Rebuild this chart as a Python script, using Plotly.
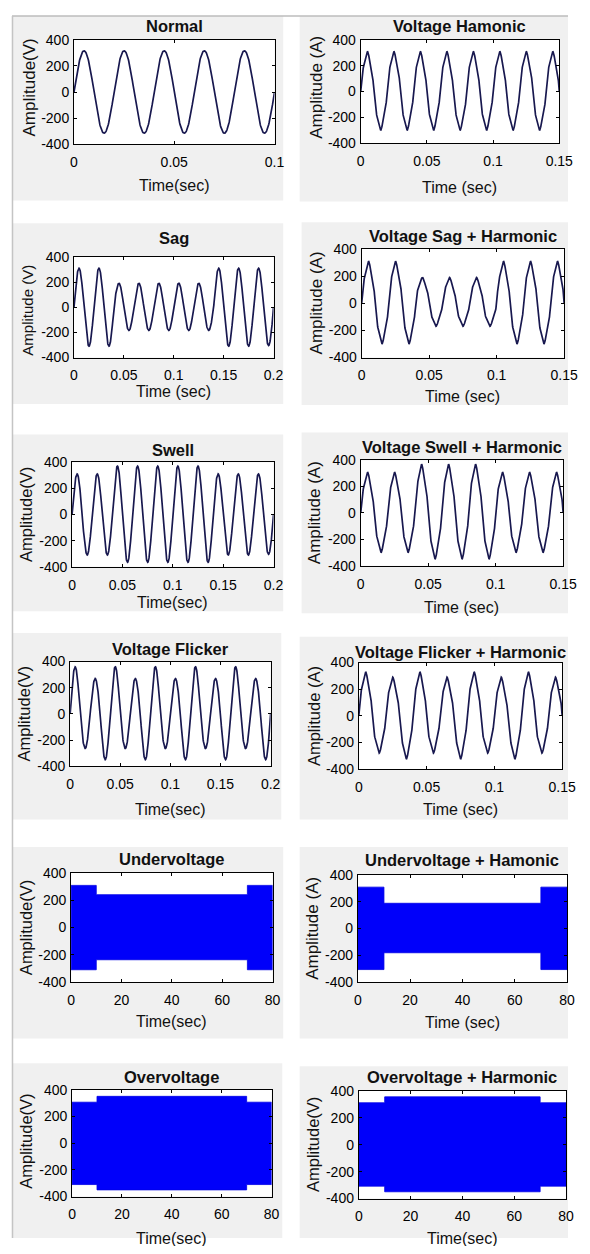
import numpy as np
import plotly.graph_objects as go

# page is shown with the browser's default 8px body margin, so the figure is
# sized to fill the 590x1254 window exactly together with that margin
PAGE_W, PAGE_H, OFF = 590, 1254, 8
W, H = PAGE_W - 2 * OFF, PAGE_H - 2 * OFF
FUND_HZ = 50

# ---------------- data ----------------
TITLES = ["Normal", "Voltage Hamonic", "Sag", "Voltage Sag + Harmonic",
          "Swell", "Voltage Swell + Harmonic", "Voltage Flicker",
          "Voltage Flicker + Harmonic", "Undervoltage", "Undervoltage + Hamonic",
          "Overvoltage", "Overvoltage + Harmonic"]
YLABELS = ["Amplitude(V)", "Amplitude (A)", "Amplitude (V)", "Amplitude (A)",
           "Amplitude(V)", "Amplitude (A)", "Amplitude(V)", "Amplitude (A)",
           "Amplitude(V)", "Amplitude (A)", "Amplitude(V)", "Amplitude(V)"]
XLABELS = ["Time(sec)", "Time (sec)", "Time (sec)", "Time (sec)",
           "Time(sec)", "Time (sec)", "Time(sec)", "Time (sec)",
           "Time(sec)", "Time (sec)", "Time(sec)", "Time(sec)"]

Y_TICKS = [-400, -200, 0, 200, 400]
X_TICKS_01 = [0, 0.05, 0.1]
X_TICKS_015 = [0, 0.05, 0.1, 0.15]
X_TICKS_02 = [0, 0.05, 0.1, 0.15, 0.2]
X_TICKS_80 = [0, 20, 40, 60, 80]

# peak magnitude of every half cycle (10 ms each)
NORMAL_HC = [315, 315, 315, 315, 315, 315, 315, 315, 315, 315]
HARM_HC = [310, 300, 310, 300, 310, 300, 310, 300, 310, 300, 310, 300, 310, 300, 310]
SAG_HC = [310, 310, 310, 310, 190, 185, 190, 185, 190, 185, 190, 185, 190, 185,
          310, 310, 310, 310, 310, 305]
SAG_H_HC = [310, 300, 310, 300, 190, 170, 190, 170, 190, 170, 310, 300, 310, 300, 310]
SWELL_HC = [310, 310, 310, 310, 370, 365, 370, 365, 370, 365, 370, 365, 370, 365,
            310, 310, 310, 310, 310, 305]
SWELL_H_HC = [310, 300, 310, 300, 370, 350, 370, 350, 370, 350, 310, 300, 310, 300, 310]
FLICK_HC = [360, 265, 270, 350, 360, 265, 270, 350, 360, 265, 270, 350, 360, 265,
            270, 350, 360, 265, 270, 350]
FLICK_H_HC = [330, 280, 290, 325, 330, 280, 290, 325, 330, 280, 290, 325, 330, 280, 290]

# harmonic content of the distorted waveforms (order, relative magnitude)
HARM_ORDERS = [1, 3, 5]
HARM_MAGS = [1.0, 0.03, 0.06]

# dense 80 s records: segment bounds, upper / lower envelope
UV_BOUNDS = [0, 10, 70, 80]
UV_UPPER = [308, 240, 308]
UV_LOWER = [-308, -235, -308]
UVH_BOUNDS = [0, 10, 70, 80]
UVH_UPPER = [308, 188, 308]
UVH_LOWER = [-305, -180, -305]
OV_BOUNDS = [0, 10, 70, 80]
OV_UPPER = [308, 352, 308]
OV_LOWER = [-310, -350, -310]
OVH_BOUNDS = [0, 10, 70, 80]
OVH_UPPER = [312, 356, 312]
OVH_LOWER = [-308, -350, -308]

# ---------------- layout (window pixels) ----------------
BOX = [(72, 279, 32, 138), (368, 573, 32, 137), (72, 278, 252, 354), (369, 578, 244, 354),
       (70, 278, 460, 566), (368, 577, 458, 565), (68, 275, 662, 768), (366, 576, 663, 771),
       (69, 277, 876, 987), (365, 581, 878, 987), (70, 276, 1096, 1204), (366, 580, 1097, 1206)]
TITLE_Y = [18, 18, 233, 231, 448, 445, 649, 652, 862, 863, 1083, 1083]
XT_Y = [180, 182, 388, 393, 602, 607, 812, 812, 1027, 1028, 1247, 1249]
YT_X = [26, 322, 24, 322, 23, 321, 20, 320, 22, 318, 23, 318]
YT_DY = [-5, -4, 3, 0, 0, 0, 0, 0, 0, 0, -2, 0]
YT_SIZE = [17, 17, 15, 17, 16.5, 17, 16.5, 16.5, 16.5, 17, 16.5, 16.5]
GREY = [(8, 288, 8, 195), (305, 584, 8, 196), (8, 288, 218, 401), (307, 585, 217, 402),
        (8, 288, 432, 611), (307, 585, 430, 613), (8, 286, 633, 822), (305, 583, 637, 822),
        (8, 288, 850, 1044), (305, 587, 850, 1044), (8, 287, 1069, 1254), (305, 590, 1072, 1254)]


def wave(half_amps, orders, mags, pts=60):
    th_ref = np.linspace(0, np.pi, 400)
    smax = max(sum(m * np.sin(n * th_ref) for n, m in zip(orders, mags)))
    ts, vs = [], []
    for k, a in enumerate(half_amps):
        th = np.linspace(k * np.pi, (k + 1) * np.pi, pts)
        s = sum(m * np.sin(n * th) for n, m in zip(orders, mags)) / smax
        ts.append(th / (2 * np.pi * FUND_HZ))
        vs.append(a * s)
    return np.concatenate(ts), np.concatenate(vs)


def envelope(bounds, upper, lower):
    xs, ys = [], []
    for i, u in enumerate(upper):
        xs += [bounds[i], bounds[i + 1]]
        ys += [u, u]
    for i in range(len(lower) - 1, -1, -1):
        xs += [bounds[i + 1], bounds[i]]
        ys += [lower[i], lower[i]]
    xs.append(xs[0]); ys.append(ys[0])
    return xs, ys


PURE = ([1], [1.0])
HARM = (HARM_ORDERS, HARM_MAGS)
panels = [
    ("wave", NORMAL_HC, PURE, [0, 0.1], X_TICKS_01),
    ("wave", HARM_HC, HARM, [0, 0.15], X_TICKS_015),
    ("wave", SAG_HC, PURE, [0, 0.2], X_TICKS_02),
    ("wave", SAG_H_HC, HARM, [0, 0.15], X_TICKS_015),
    ("wave", SWELL_HC, PURE, [0, 0.2], X_TICKS_02),
    ("wave", SWELL_H_HC, HARM, [0, 0.15], X_TICKS_015),
    ("wave", FLICK_HC, PURE, [0, 0.2], X_TICKS_02),
    ("wave", FLICK_H_HC, HARM, [0, 0.15], X_TICKS_015),
    ("env", (UV_BOUNDS, UV_UPPER, UV_LOWER), None, [0, 80], X_TICKS_80),
    ("env", (UVH_BOUNDS, UVH_UPPER, UVH_LOWER), None, [0, 80], X_TICKS_80),
    ("env", (OV_BOUNDS, OV_UPPER, OV_LOWER), None, [0, 80], X_TICKS_80),
    ("env", (OVH_BOUNDS, OVH_UPPER, OVH_LOWER), None, [0, 80], X_TICKS_80),
]

FONT = "Liberation Sans, Arial, sans-serif"
fig = go.Figure()
layout = dict(width=W, height=H, margin=dict(l=0, r=0, t=0, b=0),
              paper_bgcolor="white", plot_bgcolor="white", showlegend=False)
shapes, annos = [], []


def px(x):
    return min(max((x - OFF) / W, 0), 1)


def py(y):
    return min(max(1 - (y - OFF) / H, 0), 1)


for i, (kind, data, harm, xr, xt) in enumerate(panels):
    n = i + 1
    xa = "x" if n == 1 else f"x{n}"
    ya = "y" if n == 1 else f"y{n}"
    if kind == "wave":
        t, v = wave(data, *harm)
        fig.add_trace(go.Scatter(x=t, y=v, mode="lines", xaxis=xa, yaxis=ya,
                                 line=dict(color="#18184f", width=1.7), hoverinfo="skip"))
    else:
        ex, ey = envelope(*data)
        fig.add_trace(go.Scatter(x=ex, y=ey, mode="lines", fill="toself", xaxis=xa, yaxis=ya,
                                 fillcolor="#0000fa", line=dict(color="#0000e6", width=0.8),
                                 hoverinfo="skip"))
    l, r, t0, b = BOX[i]
    axcommon = dict(showline=True, linecolor="black", linewidth=1, mirror="ticks",
                    ticks="inside", ticklen=3, tickcolor="black", showgrid=False,
                    zeroline=False, tickfont=dict(family=FONT, size=14, color="#000"))
    xkey = "xaxis" if n == 1 else f"xaxis{n}"
    ykey = "yaxis" if n == 1 else f"yaxis{n}"
    layout[xkey] = dict(axcommon, domain=[px(l), px(r)], anchor=ya, range=xr,
                        tickvals=xt, ticktext=[f"{v:g}" for v in xt], ticklabelstandoff=5)
    layout[ykey] = dict(axcommon, domain=[py(b), py(t0)], anchor=xa, range=[-400, 400],
                        tickvals=Y_TICKS, ticktext=[str(v) for v in Y_TICKS], ticklabelstandoff=1)
    gx0, gx1, gy0, gy1 = GREY[i]
    shapes.append(dict(type="rect", xref="paper", yref="paper", x0=px(gx0), x1=px(gx1),
                       y0=py(gy1), y1=py(gy0), fillcolor="#f0f0f0", line=dict(width=0),
                       layer="below"))
    cx = (l + r) / 2
    annos.append(dict(x=px(cx), y=py(TITLE_Y[i]), xref="paper", yref="paper", text=f"<b>{TITLES[i]}</b>",
                      showarrow=False, xanchor="center", yanchor="middle",
                      font=dict(family=FONT, size=16.5, color="#111")))
    annos.append(dict(x=px(cx), y=py(XT_Y[i]), xref="paper", yref="paper", text=XLABELS[i],
                      showarrow=False, xanchor="center", yanchor="middle",
                      font=dict(family=FONT, size=16, color="#111")))
    annos.append(dict(x=px(YT_X[i]), y=py((t0 + b) / 2 + YT_DY[i]), xref="paper", yref="paper",
                      text=YLABELS[i], textangle=-90, showarrow=False, xanchor="center",
                      yanchor="middle", font=dict(family=FONT, size=YT_SIZE[i], color="#111")))

# white plot areas above the grey panels
for (l, r, t0, b) in BOX:
    shapes.append(dict(type="rect", xref="paper", yref="paper", x0=px(l), x1=px(r),
                       y0=py(b), y1=py(t0), fillcolor="white", line=dict(width=0), layer="below"))
# collage frame lines
shapes.append(dict(type="line", xref="paper", yref="paper", x0=0, x1=1, y0=py(8), y1=py(8),
                   line=dict(color="#bdbdbd", width=1.5)))
shapes.append(dict(type="line", xref="paper", yref="paper", x0=px(8.5), x1=px(8.5), y0=0, y1=py(8),
                   line=dict(color="#c4c4c4", width=1.5)))

layout["shapes"] = shapes
layout["annotations"] = annos
fig.update_layout(**layout)
fig.write_html("out.html", config={"displayModeBar": False, "responsive": False})
